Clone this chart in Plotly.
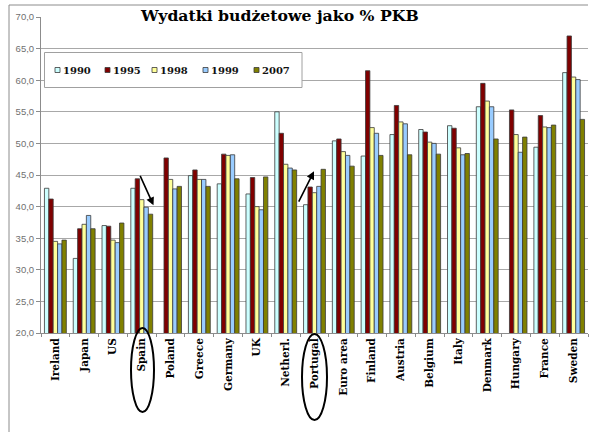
import plotly.graph_objects as go

countries = ["Ireland", "Japan", "US", "Spain", "Poland", "Greece", "Germany", "UK",
             "Netherl.", "Portugal", "Euro area", "Finland", "Austria", "Belgium",
             "Italy", "Denmark", "Hungary", "France", "Sweden"]
years = ["1990", "1995", "1998", "1999", "2007"]

v1990 = [42.9, 31.8, 37.0, 42.9, None, 44.9, 43.6, 42.0, 55.0, 40.3, 50.4, 48.0, 51.4, 52.2, 52.8, 55.8, None, 49.4, 61.2]
v1995 = [41.2, 36.5, 36.9, 44.4, 47.7, 45.8, 48.3, 44.6, 51.6, 43.1, 50.7, 61.5, 56.0, 51.8, 52.4, 59.5, 55.3, 54.4, 67.0]
v1998 = [34.5, 37.2, 34.7, 41.1, 44.3, 44.3, 48.1, 40.0, 46.7, 42.2, 48.7, 52.5, 53.4, 50.2, 49.3, 56.7, 51.4, 52.6, 60.5]
v1999 = [34.1, 38.6, 34.3, 39.9, 42.8, 44.3, 48.2, 39.5, 46.1, 43.2, 48.1, 51.6, 53.1, 50.0, 48.2, 55.8, 48.6, 52.5, 60.1]
v2007 = [34.7, 36.5, 37.4, 38.8, 43.2, 43.2, 44.4, 44.7, 45.8, 45.9, 46.4, 48.1, 48.2, 48.3, 48.4, 50.7, 51.0, 52.9, 53.8]
series = [v1990, v1995, v1998, v1999, v2007]
colors = ["#CCFFFF", "#800000", "#FFFF99", "#99CCFF", "#808000"]

title_text = "Wydatki budżetowe jako % PKB"
y_ticks = [20, 25, 30, 35, 40, 45, 50, 55, 60, 65, 70]

WIDTH, HEIGHT = 597, 432
L, R, T, B = 41, 588, 17, 333  # plot area pixels
PW, PH = R - L, B - T


def pxx(x):
    return (x - L) / PW


def pxy(y):
    return (B - y) / PH


def catx(x):
    return (x - L) / PW * len(countries) - 0.5


fig = go.Figure()
for name, vals, col in zip(years, series, colors):
    fig.add_trace(go.Bar(
        name=name, x=countries, y=vals,
        marker=dict(color=col, line=dict(color="#3a3a3a", width=0.8)),
        showlegend=False,
    ))

shapes = []
# outer frame (top and left)
shapes.append(dict(type="line", xref="paper", yref="paper", x0=pxx(9), x1=pxx(588),
                   y0=pxy(5), y1=pxy(5), line=dict(color="#8c8c8c", width=1)))
shapes.append(dict(type="line", xref="paper", yref="paper", x0=pxx(9), x1=pxx(9),
                   y0=pxy(5), y1=pxy(432), line=dict(color="#8c8c8c", width=1)))
# legend box
shapes.append(dict(type="rect", xref="paper", yref="paper", x0=pxx(44.5), x1=pxx(302),
                   y0=pxy(52.5), y1=pxy(87.5), fillcolor="white",
                   line=dict(color="#a0a0a0", width=1), layer="above"))
annotations = []
leg_sq_x = [55, 105, 152, 203, 254]
for sx, name, col in zip(leg_sq_x, years, colors):
    shapes.append(dict(type="rect", xref="paper", yref="paper", x0=pxx(sx), x1=pxx(sx + 5),
                       y0=pxy(67.5), y1=pxy(72.5), fillcolor=col,
                       line=dict(color="#3a3a3a", width=0.8), layer="above"))
    annotations.append(dict(xref="paper", yref="paper", x=pxx(sx + 5.5), y=pxy(70),
                            xanchor="left", yanchor="middle", showarrow=False,
                            text="<b>" + name + "</b>",
                            font=dict(family="DejaVu Serif", size=10, color="#111")))
# ellipses around Spain and Portugal
shapes.append(dict(type="circle", xref="x", yref="paper", x0=catx(131), x1=catx(154),
                   y0=pxy(328), y1=pxy(412), line=dict(color="black", width=2)))
shapes.append(dict(type="circle", xref="x", yref="paper", x0=catx(302), x1=catx(327),
                   y0=pxy(334), y1=pxy(420), line=dict(color="black", width=2)))

# arrows
annotations.append(dict(xref="x", yref="y", x=catx(153.5), y=40.2, ax=-14, ay=-31,
                        showarrow=True, arrowhead=2, arrowsize=1, arrowwidth=1.6,
                        arrowcolor="black", text=""))
annotations.append(dict(xref="x", yref="y", x=catx(314), y=45.6, ax=-16, ay=32,
                        showarrow=True, arrowhead=2, arrowsize=1, arrowwidth=1.6,
                        arrowcolor="black", text=""))
# title
annotations.append(dict(xref="paper", yref="paper", x=pxx(279), y=pxy(15.5),
                        xanchor="center", yanchor="middle", showarrow=False,
                        text="<b>" + title_text + "</b>",
                        font=dict(family="DejaVu Serif", size=15.7, color="black")))

fig.update_layout(
    width=WIDTH, height=HEIGHT,
    margin=dict(l=L, r=WIDTH - R, t=T, b=HEIGHT - B, pad=0),
    paper_bgcolor="white", plot_bgcolor="white",
    barmode="group", bargap=0.24, bargroupgap=0,
    separators=", ",
    hovermode=False,
    shapes=shapes, annotations=annotations,
    xaxis=dict(
        type="category", showgrid=False, showline=True, linecolor="#8c8c8c", linewidth=1,
        ticks="outside", tickson="boundaries", ticklen=3, tickcolor="#8c8c8c",
        tickangle=-90,
        tickfont=dict(family="DejaVu Serif", size=10.5, color="black", weight="bold"),
    ),
    yaxis=dict(
        range=[20, 70], tickvals=y_ticks, tickformat=".1f",
        showgrid=True, gridcolor="#a8a8a8", gridwidth=1,
        showline=True, linecolor="#8c8c8c", linewidth=1,
        ticks="outside", ticklen=4, tickcolor="#8c8c8c",
        tickfont=dict(family="Liberation Sans", size=9.5, color="#707070"),
        zeroline=False,
    ),
)

fig.write_html("out.html", config={"displayModeBar": False, "staticPlot": True},
               post_script="document.body.style.margin='0px';")
